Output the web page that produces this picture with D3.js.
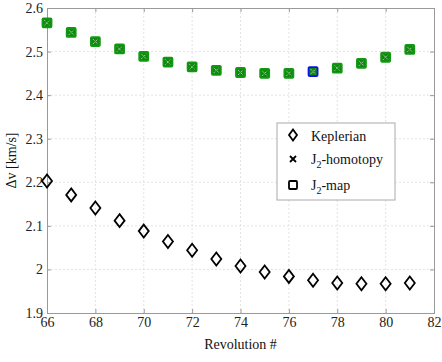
<!DOCTYPE html>
<html>
<head>
<meta charset="utf-8">
<script src="https://cdn.jsdelivr.net/npm/d3@7"></script>
<style>
  html, body { margin: 0; padding: 0; background: #fff; }
  svg text { font-family: "Liberation Serif", "Times New Roman", "DejaVu Serif", serif; }
</style>
</head>
<body>
<svg id="chart" width="442" height="362"></svg>
<script>
// Revolution numbers and Δv per method
const revolutions = [66, 67, 68, 69, 70, 71, 72, 73, 74, 75, 76, 77, 78, 79, 80, 81];
const keplerian  = [2.203, 2.171, 2.141, 2.112, 2.088, 2.064, 2.044, 2.024, 2.008, 1.994, 1.984, 1.975, 1.969, 1.967, 1.967, 1.969];
const j2Homotopy = [2.566, 2.544, 2.523, 2.506, 2.489, 2.476, 2.465, 2.457, 2.452, 2.450, 2.450, 2.454, 2.462, 2.473, 2.487, 2.505];
const j2Map      = [2.566, 2.544, 2.523, 2.506, 2.489, 2.476, 2.465, 2.457, 2.452, 2.450, 2.450, 2.454, 2.462, 2.473, 2.487, 2.505];
const highlightRev = 77;
const xTicks = [66, 68, 70, 72, 74, 76, 78, 80, 82];
const yTicks = [1.9, 2, 2.1, 2.2, 2.3, 2.4, 2.5, 2.6];

const SERIF = "'Liberation Serif', 'Times New Roman', serif";
const FS = 14;
const svg = d3.select("#chart");
const m = { left: 47, right: 434, top: 8, bottom: 313 };

const x = d3.scaleLinear().domain([66, 82]).range([m.left, m.right]);
const y = d3.scaleLinear().domain([1.9, 2.6]).range([m.bottom, m.top]);

// dotted grid
const grid = svg.append("g");
grid.selectAll("line.gx").data(xTicks.slice(1, -1)).join("line")
  .attr("x1", d => x(d)).attr("x2", d => x(d))
  .attr("y1", m.top).attr("y2", m.bottom)
  .attr("stroke", "#dcdcdc").attr("stroke-width", 0.8).attr("stroke-dasharray", "2,2");
grid.selectAll("line.gy").data(yTicks.slice(1, -1)).join("line")
  .attr("y1", d => y(d)).attr("y2", d => y(d))
  .attr("x1", m.left).attr("x2", m.right)
  .attr("stroke", "#dcdcdc").attr("stroke-width", 0.8).attr("stroke-dasharray", "2,2");

// axes with inward ticks on all four sides
const xAxis = d3.axisBottom(x).tickValues(xTicks).tickSize(-4).tickPadding(4).tickFormat(d3.format("d"));
const yAxis = d3.axisLeft(y).tickValues(yTicks).tickSize(-4).tickPadding(4).tickFormat(d => d === 2 ? "2" : d3.format(".1f")(d));

const gx = svg.append("g").attr("transform", `translate(0,${m.bottom})`).call(xAxis);
const gy = svg.append("g").attr("transform", `translate(${m.left},0)`).call(yAxis);
const gx2 = svg.append("g").attr("transform", `translate(0,${m.top})`)
  .call(d3.axisTop(x).tickValues(xTicks).tickSize(-4).tickFormat(""));
const gy2 = svg.append("g").attr("transform", `translate(${m.right},0)`)
  .call(d3.axisRight(y).tickValues(yTicks).tickSize(-4).tickFormat(""));
[gx, gy, gx2, gy2].forEach(g => {
  g.attr("font-family", SERIF);
  g.selectAll("path.domain").attr("stroke", "#9a9a9a");
  g.selectAll(".tick line").attr("stroke", "#9a9a9a");
  g.selectAll(".tick text").attr("font-family", SERIF).attr("font-size", FS).attr("fill", "#222");
});

// Keplerian diamonds
const pts = revolutions.map((r, i) => ({ r, k: keplerian[i], h: j2Homotopy[i], mp: j2Map[i] }));
svg.append("g").selectAll("path").data(pts).join("path")
  .attr("transform", d => `translate(${x(d.r)},${y(d.k)})`)
  .attr("d", "M0,-6.5L5,0L0,6.5L-5,0Z")
  .attr("fill", "none").attr("stroke", "#000").attr("stroke-width", 1.8);

// J2-map squares
svg.append("g").selectAll("rect").data(pts).join("rect")
  .attr("x", d => x(d.r) - 4.5).attr("y", d => y(d.mp) - 4.5)
  .attr("width", 9).attr("height", 9).attr("rx", 1)
  .attr("fill", "#118811")
  .attr("stroke", d => d.r === highlightRev ? "#1010ee" : "#119911")
  .attr("stroke-width", 1.8);

// J2-homotopy crosses
svg.append("g").selectAll("path").data(pts).join("path")
  .attr("transform", d => `translate(${x(d.r)},${y(d.h)})`)
  .attr("d", "M-2.5,-2.5L2.5,2.5M-2.5,2.5L2.5,-2.5")
  .attr("stroke", "#cfe9cf").attr("stroke-width", 1).attr("stroke-dasharray", "1,1.2").attr("fill", "none");

// legend
const lg = svg.append("g").attr("transform", "translate(277,123)");
lg.append("rect").attr("width", 118).attr("height", 77).attr("fill", "#fff").attr("stroke", "#aaa");
lg.append("path").attr("transform", "translate(16,12)").attr("d", "M0,-5.5L4,0L0,5.5L-4,0Z")
  .attr("fill", "none").attr("stroke", "#000").attr("stroke-width", 1.8);
lg.append("path").attr("transform", "translate(16,36)").attr("d", "M-3,-3L3,3M-3,3L3,-3")
  .attr("stroke", "#000").attr("stroke-width", 1.8);
lg.append("rect").attr("x", 12).attr("y", 58).attr("width", 8).attr("height", 8).attr("rx", 1)
  .attr("fill", "none").attr("stroke", "#000").attr("stroke-width", 1.8);
const lt = lg.append("g").attr("font-size", FS).attr("font-family", SERIF).attr("fill", "#111");
lt.append("text").attr("x", 34).attr("y", 18).text("Keplerian");
const t2 = lt.append("text").attr("x", 34).attr("y", 41);
t2.append("tspan").text("J");
t2.append("tspan").attr("font-size", 10).attr("dy", 4).text("2");
t2.append("tspan").attr("dy", -4).text("-homotopy");
const t3 = lt.append("text").attr("x", 34).attr("y", 67);
t3.append("tspan").text("J");
t3.append("tspan").attr("font-size", 10).attr("dy", 4).text("2");
t3.append("tspan").attr("dy", -4).text("-map");

// axis titles
svg.append("text").attr("x", (m.left + m.right) / 2).attr("y", 349)
  .attr("text-anchor", "middle").attr("font-size", FS).attr("font-family", SERIF).attr("fill", "#111").text("Revolution #");
svg.append("text").attr("transform", `translate(16,${(m.top + m.bottom) / 2}) rotate(-90)`)
  .attr("text-anchor", "middle").attr("font-size", FS).attr("font-family", SERIF).attr("fill", "#111").text("Δv [km/s]");
</script>
</body>
</html>
